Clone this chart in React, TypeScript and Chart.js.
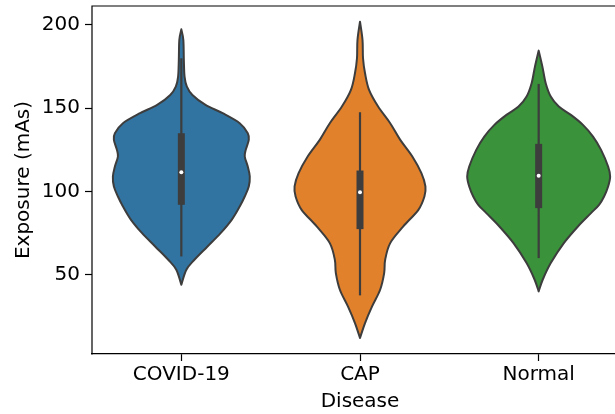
import React, { useEffect, useRef } from "react";
import { Chart, registerables } from "chart.js";

Chart.register(...registerables);

// Groups on the x axis
const categories = ["COVID-19", "CAP", "Normal"];
const fillColors = ["#3274a1", "#e1812c", "#3a923a"];
const edgeColor = "#3d3d3d";

// Kernel density outlines: exposure values (top to bottom) and relative density at each
const covidValues = [197.4, 191, 179, 169, 163, 158, 152, 147, 141, 135, 131, 125, 121, 115, 109, 103, 97, 91, 83, 75, 67, 59, 53, 44];
const covidDensity = [0, 2, 2.5, 3.2, 5.5, 11, 24, 41, 58, 66, 67, 64, 63, 66, 68, 67, 63, 58, 50, 39, 26, 13, 5, 0];

const capValues = [202, 191, 180, 171, 161, 151, 141, 131, 121, 111, 103, 97, 89, 79, 69, 59, 51, 41, 31, 21, 12];
const capDensity = [0, 2.5, 3, 5, 9, 18, 30, 40, 52, 61, 65, 64, 58, 43, 30, 25, 24, 20, 12, 5, 0];

const normalValues = [184.6, 175, 165, 157, 151, 146, 140, 133, 125, 115, 109, 103, 97, 92, 87, 79, 69, 57, 47, 40];
const normalDensity = [0, 3.7, 7, 12, 20, 32, 44, 54, 62, 69, 71, 69, 65, 60, 52, 39, 25, 12, 4, 0];

// Box summary per group
const whiskerLow = [61, 37.6, 60];
const quartile1 = [92, 77.4, 90];
const medians = [111.6, 99.6, 109.4];
const quartile3 = [135, 112.6, 128.6];
const whiskerHigh = [180, 147.6, 164.6];

const xTicks = [0, 1, 2];
const yTicks = [50, 100, 150, 200];

const profiles = [
  { values: covidValues, density: covidDensity },
  { values: capValues, density: capDensity },
  { values: normalValues, density: normalDensity },
];

// Half of the violin width in category units (seaborn width 0.8)
const maxHalfWidth = 0.4;

type Pt = { x: number; y: number };

function smoothPath(ctx: CanvasRenderingContext2D, pts: Pt[], moveFirst: boolean) {
  if (moveFirst) ctx.moveTo(pts[0].x, pts[0].y);
  else ctx.lineTo(pts[0].x, pts[0].y);
  for (let i = 0; i < pts.length - 1; i++) {
    const p0 = pts[i - 1] || pts[i];
    const p1 = pts[i];
    const p2 = pts[i + 1];
    const p3 = pts[i + 2] || p2;
    const c1x = p1.x + (p2.x - p0.x) / 6;
    const c1y = p1.y + (p2.y - p0.y) / 6;
    const c2x = p2.x - (p3.x - p1.x) / 6;
    const c2y = p2.y - (p3.y - p1.y) / 6;
    ctx.bezierCurveTo(c1x, c1y, c2x, c2y, p2.x, p2.y);
  }
}

const violinPlugin = {
  id: "violins",
  beforeDatasetsDraw(chart: any) {
    const { ctx, scales, chartArea } = chart;
    const xs = scales.x;
    const ys = scales.y;
    const globalMax = Math.max(...profiles.flatMap((p) => p.density));
    ctx.save();
    ctx.beginPath();
    ctx.rect(chartArea.left, chartArea.top, chartArea.right - chartArea.left, chartArea.bottom - chartArea.top);
    ctx.clip();
    profiles.forEach((prof, i) => {
      const right: Pt[] = prof.values.map((v, k) => ({
        x: xs.getPixelForValue(i + (prof.density[k] / globalMax) * maxHalfWidth),
        y: ys.getPixelForValue(v),
      }));
      const left: Pt[] = prof.values
        .map((v, k) => ({
          x: xs.getPixelForValue(i - (prof.density[k] / globalMax) * maxHalfWidth),
          y: ys.getPixelForValue(v),
        }))
        .reverse();
      ctx.beginPath();
      smoothPath(ctx, right, true);
      smoothPath(ctx, left, false);
      ctx.closePath();
      ctx.fillStyle = fillColors[i];
      ctx.fill();
      ctx.lineWidth = 2;
      ctx.strokeStyle = edgeColor;
      ctx.lineJoin = "round";
      ctx.stroke();

      const cx = xs.getPixelForValue(i);
      // whisker
      ctx.beginPath();
      ctx.moveTo(cx, ys.getPixelForValue(whiskerLow[i]));
      ctx.lineTo(cx, ys.getPixelForValue(whiskerHigh[i]));
      ctx.lineWidth = 2.2;
      ctx.lineCap = "butt";
      ctx.stroke();
      // interquartile box
      ctx.beginPath();
      ctx.moveTo(cx, ys.getPixelForValue(quartile1[i]));
      ctx.lineTo(cx, ys.getPixelForValue(quartile3[i]));
      ctx.lineWidth = 7;
      ctx.stroke();
    });
    ctx.restore();
  },
  afterDraw(chart: any) {
    // top and left spines
    const { ctx, chartArea } = chart;
    ctx.save();
    ctx.beginPath();
    ctx.moveTo(chartArea.left, chartArea.bottom);
    ctx.lineTo(chartArea.left, chartArea.top);
    ctx.lineTo(chartArea.right, chartArea.top);
    ctx.lineWidth = 1.2;
    ctx.lineCap = "square";
    ctx.strokeStyle = "#000";
    ctx.stroke();
    ctx.restore();
  },
};

const FONT = "'DejaVu Sans', sans-serif";

const tickColorFor = (list: number[]) => (c: any) =>
  c.tick && list.includes(c.tick.value) ? "#000" : "rgba(0,0,0,0)";

export default function App() {
  const canvasRef = useRef<HTMLCanvasElement | null>(null);

  useEffect(() => {
    const canvas = canvasRef.current;
    if (!canvas) return;
    const chart = new Chart(canvas, {
      type: "scatter",
      data: {
        datasets: [
          {
            data: medians.map((m, i) => ({ x: i, y: m })),
            pointRadius: 2,
            pointBackgroundColor: "#ffffff",
            pointBorderWidth: 0,
            showLine: false,
          },
        ],
      },
      options: {
        responsive: false,
        animation: false,
        devicePixelRatio: 1,
        layout: { padding: { top: 6, right: 12, left: 0, bottom: 0 } },
        plugins: { legend: { display: false }, tooltip: { enabled: false } },
        scales: {
          x: {
            type: "linear",
            min: -0.5,
            max: 2.5,
            afterBuildTicks: (scale: any) => {
              scale.ticks = xTicks.map((v) => ({ value: v }));
            },
            afterFit: (scale: any) => {
              scale.height = 60;
              scale.paddingLeft = 0;
              scale.paddingRight = 0;
            },
            ticks: {
              callback: (v: any) => categories[v as number] ?? "",
              font: { family: FONT, size: 20 },
              color: "#000",
              padding: 2,
              maxRotation: 0,
              autoSkip: false,
            },
            grid: { drawOnChartArea: false, drawTicks: true, tickLength: 7, tickColor: tickColorFor(xTicks), tickWidth: 1.2 },
            border: { display: true, color: "#000", width: 1.2 },
            title: { display: true, text: "Disease", font: { family: FONT, size: 20 }, color: "#000", padding: { top: 0, bottom: 0 } },
          },
          y: {
            type: "linear",
            min: 2.4,
            max: 211.4,
            afterBuildTicks: (scale: any) => {
              scale.ticks = yTicks.map((v) => ({ value: v }));
            },
            afterFit: (scale: any) => {
              scale.width = 92;
              scale.paddingTop = 0;
              scale.paddingBottom = 0;
            },
            ticks: {
              font: { family: FONT, size: 20 },
              color: "#000",
              padding: 5,
            },
            grid: { drawOnChartArea: false, drawTicks: true, tickLength: 7, tickColor: tickColorFor(yTicks), tickWidth: 1.2 },
            border: { display: false },
            title: { display: true, text: "Exposure (mAs)", font: { family: FONT, size: 20 }, color: "#000", padding: { top: 12, bottom: 0 } },
          },
        },
      },
      plugins: [violinPlugin],
    });
    return () => chart.destroy();
  }, []);

  return (
    <div style={{ position: "fixed", left: 0, top: 0, width: 615, height: 414, overflow: "hidden", background: "#fff" }}>
      <canvas ref={canvasRef} width={640} height={414} style={{ width: 640, height: 414, display: "block" }} />
    </div>
  );
}
